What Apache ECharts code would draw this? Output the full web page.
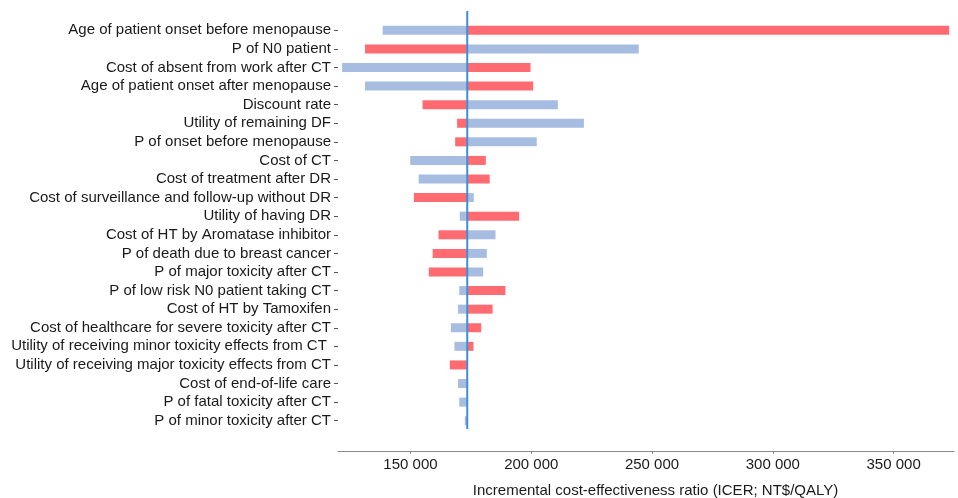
<!DOCTYPE html>
<html>
<head>
<meta charset="utf-8">
<script src="https://cdn.jsdelivr.net/npm/echarts@6/dist/echarts.min.js"></script>
<style>html,body{margin:0;padding:0;background:#fff}#c{width:958px;height:498px}</style>
</head>
<body>
<div id="c"></div>
<script>
const categories = [
  'Age of patient onset before menopause',
  'P of N0 patient',
  'Cost of absent from work after CT',
  'Age of patient onset after menopause',
  'Discount rate',
  'Utility of remaining DF',
  'P of onset before menopause',
  'Cost of CT',
  'Cost of treatment after DR',
  'Cost of surveillance and follow-up without DR',
  'Utility of having DR',
  'Cost of HT by Aromatase inhibitor',
  'P of death due to breast cancer',
  'P of major toxicity after CT',
  'P of low risk N0 patient taking CT',
  'Cost of HT by Tamoxifen',
  'Cost of healthcare for severe toxicity after CT',
  'Utility of receiving minor toxicity effects from CT ',
  'Utility of receiving major toxicity effects from CT',
  'Cost of end-of-life care',
  'P of fatal toxicity after CT',
  'P of minor toxicity after CT'
];
const baseline = 173500;
const blueValues = [138500, 244500, 121700, 131200, 211000, 221800, 202300, 149900, 153400, 176200, 170400, 185200, 181600, 180100, 170200, 169700, 166700, 168200, 173500, 169700, 170200, 172500];
const redValues  = [373000, 131200, 199700, 200800, 155000, 169300, 168500, 181200, 182800, 151400, 195000, 161600, 159200, 157600, 189300, 184000, 179300, 176100, 166300, 173500, 173500, 173500];
const xTicks = [150000, 200000, 250000, 300000, 350000];

const BLUE = '#A7BCE1', RED = '#FF6B70';
const fmt = v => String(v).replace(/\B(?=(\d{3})+(?!\d))/g, ' ');

const hidden = [], leftSeg = [], rightSeg = [];
categories.forEach((c, i) => {
  const b = blueValues[i], r = redValues[i];
  const lo = Math.min(b, r), hi = Math.max(b, r);
  const loColor = b <= r ? BLUE : RED, hiColor = b <= r ? RED : BLUE;
  hidden.push(lo);
  leftSeg.push({value: baseline - lo, itemStyle: {color: loColor}});
  rightSeg.push({value: hi - baseline, itemStyle: {color: hiColor}});
});

const chart = echarts.init(document.getElementById('c'), null, {renderer: 'canvas'});
const font = '"Liberation Sans", Arial, sans-serif';
chart.setOption({
  animation: false,
  grid: [
    {left: 338, right: 4, top: 21, bottom: 68, containLabel: false, outerBoundsMode: 'none'},
    {left: 338, right: 4, top: 11, bottom: 69, containLabel: false, outerBoundsMode: 'none'}
  ],
  xAxis: [{
    type: 'value', gridIndex: 0, min: 120000, max: 375000, splitNumber: 5,
    offset: 21,
    splitLine: {show: false},
    axisLine: {show: true, lineStyle: {color: '#8a8a8a', width: 1.2}},
    axisTick: {show: true, length: 3, lineStyle: {color: '#8a8a8a'}},
    axisLabel: {
      color: '#1a1a1a', fontSize: 15, fontFamily: font, margin: 6,
      showMinLabel: false, showMaxLabel: false,
      formatter: v => xTicks.indexOf(v) >= 0 ? fmt(v) : ''
    },
    name: 'Incremental cost-effectiveness ratio (ICER; NT$/QALY)',
    nameLocation: 'middle', nameGap: 32,
    nameTextStyle: {color: '#1a1a1a', fontSize: 15, fontFamily: font, padding: [0, 0, 0, 19]}
  }, {
    type: 'value', gridIndex: 1, min: 120000, max: 375000, show: false
  }],
  yAxis: [{
    type: 'category', gridIndex: 0, data: categories, inverse: true,
    axisLine: {show: false},
    axisTick: {show: true, alignWithLabel: true, interval: 0, length: 4, lineStyle: {color: '#555'}},
    axisLabel: {color: '#1a1a1a', fontSize: 15, fontFamily: font, margin: 7, interval: 0}
  }, {
    type: 'value', gridIndex: 1, min: 0, max: 1, show: false
  }],
  series: [
    {type: 'bar', stack: 's', data: hidden, barWidth: 9, itemStyle: {color: 'transparent'}, silent: true},
    {type: 'bar', stack: 's', data: leftSeg, barWidth: 9},
    {type: 'bar', stack: 's', data: rightSeg, barWidth: 9},
    {type: 'line', xAxisIndex: 1, yAxisIndex: 1, data: [[baseline, 0], [baseline, 1]],
     symbol: 'none', lineStyle: {color: '#3F8FD8', width: 2}, z: 10}
  ]
});
</script>
</body>
</html>
